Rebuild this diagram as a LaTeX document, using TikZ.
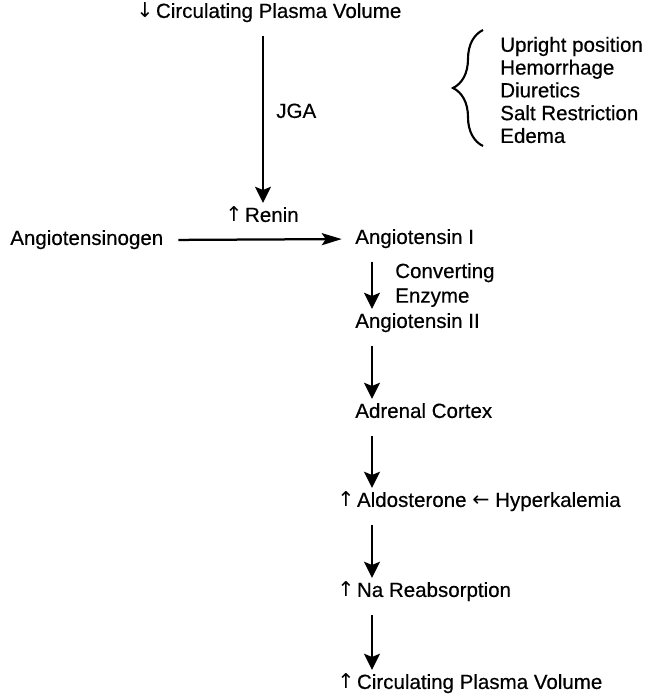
\documentclass[tikz,border=0pt]{standalone}
\usepackage{fontspec}
\setmainfont{Liberation Sans}[FakeBold=0.4]
\newfontfamily\arrowfont{DejaVu Sans}
\usetikzlibrary{positioning}
\usetikzlibrary{arrows.meta}
\usetikzlibrary{decorations.pathreplacing}
\newcommand*{\incr}{{\arrowfont ↑}\kern1.8pt}
\newcommand*{\decr}{{\arrowfont ↓}\kern1.8pt}
\newcommand*{\fromleft}{{\arrowfont ←}}

\tikzset{
    lbl/.style={inner sep=0pt, text height=10pt, text depth=3pt,
        font=\fontsize{14.6}{17.5}\selectfont},
    flow/.style={-{Stealth[length=0.4cm,width=0.4cm,inset=0.08cm]}, line width=1.6pt,
        shorten <=0.33cm, shorten >=0.12cm}
}

\begin{document}
\begin{tikzpicture}[x=0.025cm, y=-0.025cm]
\useasboundingbox (0,0) rectangle (651,700);

% Volume sensed at the JGA
\node[lbl, anchor=west] (volumedown) at (136,13) {\decr Circulating Plasma Volume};
\node[lbl, anchor=west] (jga) at (276,113) {JGA};
\node[lbl] (renin) at (262,217) {\incr Renin};

% Causes
\node[lbl, anchor=west, align=left, text height=, text depth=,
    font=\fontsize{14.6}{16.2}\selectfont] (causes) at (500,90)
    {Upright position\\Hemorrhage\\Diuretics\\Salt Restriction\\Edema};
\coordinate (bracetop) at (483,30);
\coordinate (bracebot) at (483,146);
\draw[line width=1.5pt, decorate, decoration={brace, amplitude=0.75cm}]
    (bracebot) -- (bracetop);

% Main chain
\node[lbl, anchor=west] (angen) at (10,240) {Angiotensinogen};
\node[lbl, anchor=west] (angone) at (355,239) {Angiotensin I};
\node[lbl, anchor=west, align=left, text height=, text depth=] (enzyme) at (395,285)
    {Converting\\Enzyme};
\node[lbl, anchor=west] (angtwo) at (355,323) {Angiotensin II};
\node[lbl, anchor=west] (adrenal) at (355,413) {Adrenal Cortex};
\node[lbl, anchor=west] (aldo) at (337,502) {\incr Aldosterone \fromleft\ Hyperkalemia};
\node[lbl, anchor=west] (sodium) at (337,592) {\incr Na Reabsorption};
\node[lbl, anchor=west] (volumeup) at (337,684) {\incr Circulating Plasma Volume};

\coordinate (col) at (372,0);
\coordinate (jgacol) at (263,0);

% Arrows
\draw[flow] (volumedown.south -| jgacol) -- (renin.north -| jgacol);
\draw[flow, -{Stealth[length=0.5cm,width=0.3cm,inset=0.1cm]},
    shorten <=0.37cm, shorten >=0.33cm] (angen.east) -- (angone.west);
\draw[flow] (angone.south -| col) -- (angtwo.north -| col);
\draw[flow] (angtwo.south -| col) -- (adrenal.north -| col);
\draw[flow] (adrenal.south -| col) -- (aldo.north -| col);
\draw[flow] (aldo.south -| col) -- (sodium.north -| col);
\draw[flow] (sodium.south -| col) -- (volumeup.north -| col);

\end{tikzpicture}
\end{document}
